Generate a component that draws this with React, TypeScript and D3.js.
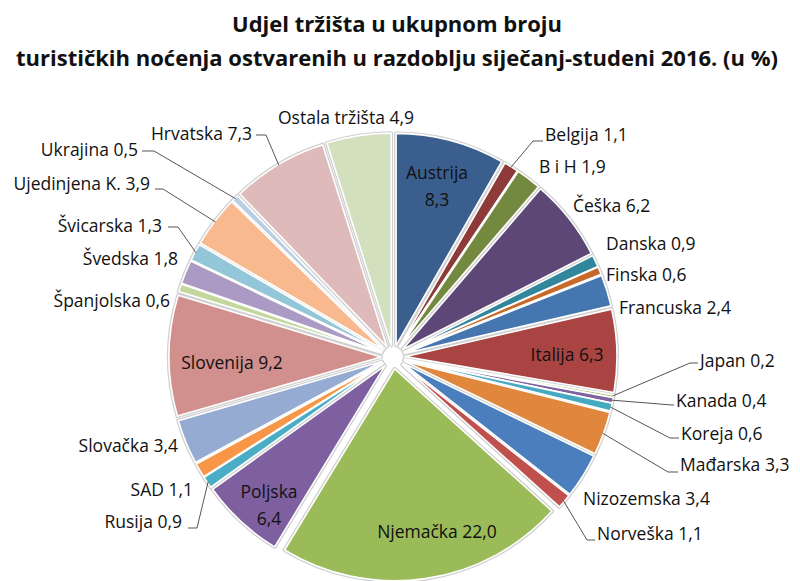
import React from 'react';
import * as d3 from 'd3';

const countries = [
  'Austrija', 'Belgija', 'B i H', 'Češka', 'Danska', 'Finska', 'Francuska', 'Italija',
  'Japan', 'Kanada', 'Koreja', 'Mađarska', 'Nizozemska', 'Norveška', 'Njemačka', 'Poljska',
  'Rusija', 'SAD', 'Slovačka', 'Slovenija', 'Španjolska', 'Švedska', 'Švicarska',
  'Ujedinjena K.', 'Ukrajina', 'Hrvatska', 'Ostala tržišta',
];
const shares = [
  8.3, 1.1, 1.9, 6.2, 0.9, 0.6, 2.4, 6.3,
  0.2, 0.4, 0.6, 3.3, 3.4, 1.1, 22.0, 6.4,
  0.9, 1.1, 3.4, 9.2, 0.6, 1.8, 1.3,
  3.9, 0.5, 7.3, 4.9,
];
const colors = [
  '#3a5f8e', '#8e3a38', '#72893f', '#5d4777', '#31869c', '#c8692a', '#4676b0', '#a94443',
  '#a9c46b', '#7e62a0', '#45a9c2', '#e0873d', '#4a7ebd', '#c0504d', '#9bbb59', '#7e5fa0',
  '#4bacc6', '#f79646', '#95abd2', '#d18f8d', '#c3d69b', '#ab9ac3', '#93c6d8',
  '#f9b98e', '#b9cde5', '#dfbabb', '#d2e0bd',
];
const titleLines = [
  'Udjel tržišta u ukupnom broju',
  'turističkih noćenja ostvarenih u razdoblju siječanj-studeni 2016. (u %)',
];

type Layout = {
  x: number; y: number; anchor: 'start' | 'middle' | 'end';
  split?: boolean;
  leader?: [number, number][];
};

// label placement (annotation layout, not data)
const labelLayout: Layout[] = [
  { x: 437, y: 172, anchor: 'middle', split: true },
  { x: 545, y: 134, anchor: 'start', leader: [[533, 141], [543, 141]] },
  { x: 539, y: 166, anchor: 'start' },
  { x: 573, y: 205, anchor: 'start' },
  { x: 606, y: 243, anchor: 'start' },
  { x: 606, y: 274, anchor: 'start' },
  { x: 619, y: 307, anchor: 'start' },
  { x: 567, y: 354, anchor: 'middle' },
  { x: 700, y: 360, anchor: 'start', leader: [[690, 363], [698, 363]] },
  { x: 676, y: 400, anchor: 'start', leader: [[672, 405], [674, 405]] },
  { x: 681, y: 433, anchor: 'start', leader: [[670, 438], [679, 438]] },
  { x: 680, y: 464, anchor: 'start', leader: [[668, 472], [678, 472]] },
  { x: 583, y: 498, anchor: 'start' },
  { x: 597, y: 533, anchor: 'start', leader: [[587, 540], [595, 540]] },
  { x: 437, y: 531, anchor: 'middle' },
  { x: 269, y: 491, anchor: 'middle', split: true },
  { x: 182, y: 521, anchor: 'end', leader: [[197, 528], [188, 528]] },
  { x: 193, y: 489, anchor: 'end' },
  { x: 178, y: 445, anchor: 'end' },
  { x: 232, y: 362, anchor: 'middle' },
  { x: 170, y: 300, anchor: 'end' },
  { x: 178, y: 258, anchor: 'end' },
  { x: 162, y: 225, anchor: 'end', leader: [[178, 227], [168, 227]] },
  { x: 150, y: 183, anchor: 'end', leader: [[163, 189], [155, 189]] },
  { x: 138, y: 149, anchor: 'end', leader: [[154, 151], [142, 151]] },
  { x: 252, y: 133, anchor: 'end', leader: [[266, 135], [256, 135]] },
  { x: 278, y: 117, anchor: 'start' },
];

const W = 800;
const H = 581;
const cx = 393;
const cy = 357;
const R = 212;
const EXPLODE = 12;
const FONT = '"Open Sans", Lato, sans-serif';

const fmt = (v: number) => v.toFixed(1).replace('.', ',');

export default function App() {
  const pie = d3.pie<number>().sort(null).value((d) => d);
  const arcs = pie(shares);
  const arcGen = d3.arc<d3.PieArcDatum<number>>().innerRadius(0).outerRadius(R);

  const offset = (a: d3.PieArcDatum<number>) => {
    const m = (a.startAngle + a.endAngle) / 2;
    return [Math.sin(m) * EXPLODE, -Math.cos(m) * EXPLODE];
  };
  const edgePoint = (a: d3.PieArcDatum<number>) => {
    const m = (a.startAngle + a.endAngle) / 2;
    const r = R + EXPLODE - 1;
    return [cx + Math.sin(m) * r, cy - Math.cos(m) * r];
  };

  return (
    <svg width={W} height={H} style={{ position: 'absolute', left: 0, top: 0, background: '#fff' }}>
      <g fontFamily={FONT} fontWeight={700} fontSize={22} fill="#111" textAnchor="middle">
        {titleLines.map((t, i) => (
          <text key={i} x={397} y={23 + i * 34} dominantBaseline="central">{t}</text>
        ))}
      </g>
      <g transform={`translate(${cx},${cy})`}>
        {arcs.map((a, i) => {
          const [dx, dy] = offset(a);
          return (
            <path key={'s' + i} d={arcGen(a) || ''} transform={`translate(${dx},${dy})`}
              fill="none" stroke="#cfcfcf" strokeWidth={4} strokeLinejoin="round" />
          );
        })}
        {arcs.map((a, i) => {
          const [dx, dy] = offset(a);
          return (
            <path key={'p' + i} d={arcGen(a) || ''} transform={`translate(${dx},${dy})`}
              fill={colors[i]} stroke="#fff" strokeWidth={1.6} strokeLinejoin="round" />
          );
        })}
      </g>
      <g fill="none" stroke="#555" strokeWidth={1}>
        {arcs.map((a, i) => {
          const L = labelLayout[i];
          if (!L.leader) return null;
          const p = edgePoint(a);
          const pts = [p, ...L.leader];
          return <polyline key={'l' + i} points={pts.map((q) => q.join(',')).join(' ')} />;
        })}
      </g>
      <g fontFamily={FONT} fontSize={17.5} fill="#111">
        {arcs.map((a, i) => {
          const L = labelLayout[i];
          if (L.split) {
            return (
              <text key={'t' + i} x={L.x} y={L.y} textAnchor={L.anchor} dominantBaseline="central">
                <tspan x={L.x} dy={0}>{countries[i]}</tspan>
                <tspan x={L.x} dy={27}>{fmt(shares[i])}</tspan>
              </text>
            );
          }
          return (
            <text key={'t' + i} x={L.x} y={L.y} textAnchor={L.anchor} dominantBaseline="central">
              {`${countries[i]} ${fmt(shares[i])}`}
            </text>
          );
        })}
      </g>
    </svg>
  );
}
